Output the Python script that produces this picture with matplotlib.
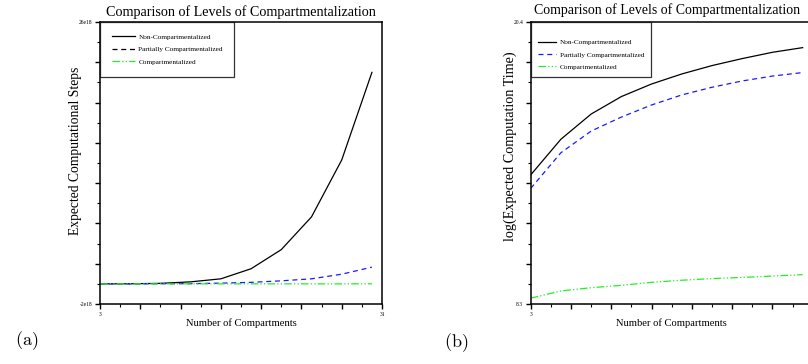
import numpy as np
import matplotlib
matplotlib.use('Agg')
import matplotlib.pyplot as plt
from matplotlib.ticker import FixedLocator, FixedFormatter

plt.rcParams['font.family'] = ['Liberation Serif', 'DejaVu Serif']
plt.rcParams['mathtext.fontset'] = 'cm'

# Data
n_comp = [3, 6, 9, 12, 15, 18, 21, 24, 27, 30]
labels = ['Non-Compartmentalized', 'Partially Compartmentalized', 'Compartmentalized']

# (a) expected computational steps (units of 1e18)
steps_non = [0.0, 0.01, 0.05, 0.2, 0.5, 1.5, 3.4, 6.65, 12.3, 21.0]
steps_part = [0.0, 0.0, 0.01, 0.02, 0.07, 0.15, 0.3, 0.5, 0.96, 1.66]
steps_comp = [0.0, 0.0, 0.0, 0.0, 0.0, 0.0, 0.0, 0.0, 0.0, 0.01]

# (b) log(expected computation time)
log_non = [13.84, 15.37, 16.45, 17.2, 17.74, 18.17, 18.53, 18.83, 19.1, 19.3]
log_part = [13.26, 14.79, 15.72, 16.32, 16.84, 17.27, 17.6, 17.87, 18.08, 18.23]
log_comp = [8.55, 8.86, 9.0, 9.1, 9.23, 9.32, 9.39, 9.44, 9.5, 9.56]

W, H = 808, 364
fig = plt.figure(figsize=(W / 100, H / 100), dpi=100)

green = '#22ee22'
blue = '#1a1aff'
dashdotdot = (0, (6, 1.8, 1, 1.8, 1, 1.8))
title = 'Comparison of Levels of Compartmentalization'


def make_axes(left_px, xlabels):
    ax = fig.add_axes([left_px / W, (H - 304) / H, 282 / W, 282 / H])
    for sp in ax.spines.values():
        sp.set_linewidth(1.1)
    ax.tick_params(which='major', direction='out', length=3.5, width=1.0, labelsize=4, pad=2)
    ax.tick_params(which='minor', direction='out', length=2.2, width=0.8)
    ax.set_xlim(3, 31)
    ax.xaxis.set_major_locator(FixedLocator(np.arange(3, 32, 4)))
    ax.xaxis.set_minor_locator(FixedLocator(np.arange(3, 32, 2)))
    ax.xaxis.set_major_formatter(FixedFormatter(xlabels))
    ax.set_xlabel('Number of Compartments', fontsize=7.6, labelpad=1)
    return ax


def style_legend(ax, hl, bp, ls, top_gap=None):
    kw = {}
    if top_gap is not None:
        # blank title just to push the entries down a bit
        kw = dict(title=' ', title_fontsize=top_gap)
    leg = ax.legend(loc='upper left', fontsize=5.2, frameon=True, fancybox=False,
                    edgecolor='black', borderaxespad=0, handlelength=hl,
                    borderpad=bp, labelspacing=ls, handletextpad=0.5, **kw)
    leg.get_frame().set_linewidth(0.9)
    return leg


# panel (a)
ax1 = make_axes(100, ['3', '', '', '', '', '', '', '31'])
ax1.plot(n_comp, np.array(steps_non) * 1e18, color='black', lw=0.9, label=labels[0])
ax1.plot(n_comp, np.array(steps_part) * 1e18, color=blue, lw=0.9, dashes=(4, 3), label=labels[1])
ax1.plot(n_comp, np.array(steps_comp) * 1e18, color=green, lw=0.9, linestyle=dashdotdot, label=labels[2])
ax1.set_ylim(-2e18, 26e18)
ax1.yaxis.set_major_locator(FixedLocator(np.arange(-2, 27, 4) * 1e18))
ax1.yaxis.set_minor_locator(FixedLocator(np.arange(-2, 27, 2) * 1e18))
ax1.yaxis.set_major_formatter(FixedFormatter(['-2e18', '', '', '', '', '', '', '26e18']))
ax1.yaxis.get_offset_text().set_visible(False)
ax1.set_ylabel('Expected Computational Steps', fontsize=9.8)
ax1.yaxis.set_label_coords((82 - 100) / 282, (304 - 151) / 282)
ax1.set_title(title, fontsize=10.2, pad=4.5)
leg1 = style_legend(ax1, 3.2, 1.6, 0.92)
leg1.get_lines()[1].set_color('black')

# panel (b) - runs past the right edge like the reference
ax2 = make_axes(530.7, ['3', '', '', '', '', '', '', ''])
ax2.plot(n_comp, log_non, color='black', lw=0.9, label=labels[0])
ax2.plot(n_comp, log_part, color=blue, lw=0.9, dashes=(4, 3), label=labels[1])
ax2.plot(n_comp, log_comp, color=green, lw=0.9, linestyle=dashdotdot, label=labels[2])
ax2.set_ylim(8.3, 20.4)
ax2.yaxis.set_major_locator(FixedLocator(np.linspace(8.3, 20.4, 8)))
ax2.yaxis.set_minor_locator(FixedLocator(np.linspace(8.3, 20.4, 15)))
ax2.yaxis.set_major_formatter(FixedFormatter(['8.3', '', '', '', '', '', '', '20.4']))
ax2.set_ylabel('log(Expected Computation Time)', fontsize=10.2)
ax2.yaxis.set_label_coords((517 - 530.7) / 282, (304 - 146) / 282)
ax2.set_title(title, fontsize=10, pad=5.5, x=(667 - 530.7) / 282)
style_legend(ax2, 2.5, 1.0, 0.85, top_gap=2.2)

# subfigure captions
fig.text(27 / W, 1 - 341 / H, r'$\mathrm{(a)}$', fontsize=13, ha='center', va='center')
fig.text(456 / W, 1 - 343 / H, r'$\mathrm{(b)}$', fontsize=13, ha='center', va='center')

fig.savefig('out.png', dpi=100)
